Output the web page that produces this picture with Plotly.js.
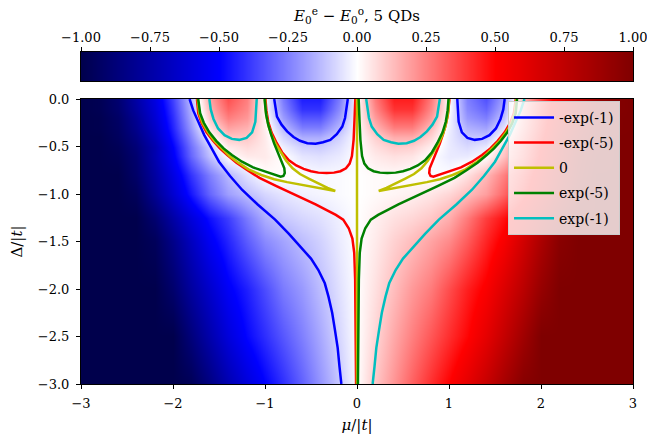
<!DOCTYPE html>
<html><head><meta charset="utf-8">
<script src="https://cdn.plot.ly/plotly-3.0.1.min.js"></script>
<style>html,body{margin:0;padding:0;background:#fff;} #chart{width:647px;height:440px;}</style>
</head><body><div id="chart"></div>
<script>
// ---- heatmap grid ----
const muGrid = [-3.0,-2.8,-2.6,-2.4,-2.2,-2.0,-1.8,-1.6,-1.4,-1.2,-1.0,-0.8,-0.6,-0.4,-0.2,0.0,0.2,0.4,0.6,0.8,1.0,1.2,1.4,1.6,1.8,2.0,2.2,2.4,2.6,2.8,3.0];
const deltaGrid = [-3.0,-2.5,-2.0,-1.5,-1.25,-1.0,-0.8,-0.6,-0.5,-0.4,-0.3,-0.2,-0.1,0.0];
const energyDiff = [
 [-1,-1,-1,-1,-1,-1,-0.97,-0.85,-0.72,-0.6,-0.5,-0.41,-0.31,-0.21,-0.11,0,0.11,0.21,0.31,0.41,0.5,0.6,0.72,0.85,0.97,1,1,1,1,1,1],
 [-1,-1,-1,-1,-1,-1,-0.87,-0.73,-0.6,-0.49,-0.41,-0.33,-0.25,-0.17,-0.08,0,0.08,0.17,0.25,0.33,0.41,0.49,0.6,0.73,0.87,1,1,1,1,1,1],
 [-1,-1,-1,-1,-1,-0.91,-0.77,-0.64,-0.52,-0.44,-0.35,-0.26,-0.2,-0.13,-0.06,0,0.06,0.13,0.2,0.26,0.35,0.44,0.52,0.64,0.77,0.91,1,1,1,1,1],
 [-1,-1,-1,-1,-0.96,-0.83,-0.68,-0.53,-0.43,-0.32,-0.23,-0.18,-0.13,-0.09,-0.04,0,0.04,0.09,0.13,0.18,0.23,0.32,0.43,0.53,0.68,0.83,0.96,1,1,1,1],
 [-1,-1,-1,-1,-0.9,-0.75,-0.6,-0.47,-0.38,-0.26,-0.16,-0.11,-0.08,-0.06,-0.03,0,0.03,0.06,0.08,0.11,0.16,0.26,0.38,0.47,0.6,0.75,0.9,1,1,1,1],
 [-1,-1,-1,-0.96,-0.8,-0.63,-0.46,-0.3,-0.19,-0.13,-0.08,-0.05,-0.03,-0.02,-0.01,0,0.01,0.02,0.03,0.05,0.08,0.13,0.19,0.3,0.46,0.63,0.8,0.96,1,1,1],
 [-1,-1,-1,-0.92,-0.76,-0.58,-0.4,-0.25,-0.14,-0.06,0,0.01,0,-0.01,-0.01,0,0.01,0.01,0,-0.01,0,0.06,0.14,0.25,0.4,0.58,0.76,0.92,1,1,1],
 [-1,-1,-0.98,-0.9,-0.72,-0.52,-0.3,-0.12,0,0.04,0.04,0,-0.05,-0.06,-0.04,0,0.04,0.06,0.05,0,-0.04,-0.04,0,0.12,0.3,0.52,0.72,0.9,0.98,1,1],
 [-1,-1,-0.97,-0.88,-0.72,-0.5,-0.28,-0.09,0.04,0.07,0.04,-0.03,-0.09,-0.1,-0.06,0,0.06,0.1,0.09,0.03,-0.04,-0.07,-0.04,0.09,0.28,0.5,0.72,0.88,0.97,1,1],
 [-1,-1,-0.95,-0.85,-0.68,-0.46,-0.24,-0.01,0.11,0.11,0.04,-0.08,-0.16,-0.16,-0.09,0,0.09,0.16,0.16,0.08,-0.04,-0.11,-0.11,0.01,0.24,0.46,0.68,0.85,0.95,1,1],
 [-1,-0.99,-0.94,-0.82,-0.65,-0.43,-0.2,0.05,0.18,0.15,0.03,-0.13,-0.25,-0.25,-0.14,0,0.14,0.25,0.25,0.13,-0.03,-0.15,-0.18,-0.05,0.2,0.43,0.65,0.82,0.94,0.99,1],
 [-1,-0.99,-0.93,-0.8,-0.62,-0.41,-0.17,0.11,0.25,0.2,0.02,-0.19,-0.33,-0.33,-0.19,0,0.19,0.33,0.33,0.19,-0.02,-0.2,-0.25,-0.11,0.17,0.41,0.62,0.8,0.93,0.99,1],
 [-1,-0.98,-0.91,-0.77,-0.6,-0.39,-0.15,0.15,0.3,0.23,0,-0.23,-0.4,-0.4,-0.23,0,0.23,0.4,0.4,0.23,0,-0.23,-0.3,-0.15,0.15,0.39,0.6,0.77,0.91,0.98,1],
 [-1,-0.98,-0.9,-0.75,-0.58,-0.37,-0.13,0.18,0.34,0.25,0,-0.26,-0.44,-0.44,-0.26,0,0.26,0.44,0.44,0.26,0,-0.25,-0.34,-0.18,0.13,0.37,0.58,0.75,0.9,0.98,1]
];
const cbarTicks = [-1.0,-0.75,-0.5,-0.25,0.0,0.25,0.5,0.75,1.0];
const xTicks = [-3,-2,-1,0,1,2,3];
const yTicks = [-3.0,-2.5,-2.0,-1.5,-1.0,-0.5,0.0];

// ---- contour lines ----
// level -exp(-1)
const blueOuterX = [-1.82,-1.78,-1.72,-1.66,-1.58,-1.50,-1.38,-1.25,-1.08,-0.89,-0.74,-0.62,-0.50,-0.42,-0.35,-0.31,-0.27,-0.24,-0.21,-0.19,-0.17];
const blueOuterY = [0,-0.12,-0.25,-0.38,-0.52,-0.66,-0.81,-0.955,-1.11,-1.27,-1.42,-1.55,-1.68,-1.80,-1.94,-2.08,-2.25,-2.43,-2.62,-2.82,-3.0];
const blueLobeX = [-0.90,-0.87,-0.82,-0.76,-0.69,-0.62,-0.54,-0.45,-0.37,-0.29,-0.22,-0.16,-0.13,-0.115,-0.10];
const blueLobeY = [0,-0.186,-0.27,-0.34,-0.40,-0.44,-0.465,-0.47,-0.455,-0.43,-0.37,-0.29,-0.2,-0.116,0];
const blueSmallX = [1.09,1.095,1.105,1.14,1.20,1.28,1.36,1.44,1.51,1.56,1.59,1.605];
const blueSmallY = [0,-0.12,-0.24,-0.35,-0.41,-0.43,-0.42,-0.38,-0.31,-0.21,-0.11,0];
// level -exp(-5)
const redOuterX = [-1.74,-1.725,-1.69,-1.635,-1.565,-1.49,-1.41,-1.31,-1.19,-1.06,-0.87,-0.62,-0.45,-0.33,-0.23,-0.15,-0.09,-0.05,-0.03,-0.02,-0.015,-0.01];
const redOuterY = [0,-0.15,-0.25,-0.35,-0.44,-0.52,-0.59,-0.67,-0.75,-0.83,-0.92,-1.03,-1.11,-1.17,-1.22,-1.27,-1.36,-1.47,-1.62,-1.9,-2.4,-3.0];
const redLobeX = [-0.995,-0.985,-0.965,-0.93,-0.875,-0.815,-0.74,-0.66,-0.58,-0.50,-0.42,-0.33,-0.25,-0.18,-0.12,-0.08,-0.055,-0.037,-0.027,-0.018];
const redLobeY = [0,-0.12,-0.24,-0.35,-0.46,-0.56,-0.645,-0.70,-0.735,-0.76,-0.775,-0.78,-0.775,-0.76,-0.73,-0.68,-0.60,-0.43,-0.22,0];
const redHookX = [1.726,1.705,1.665,1.605,1.53,1.45,1.36,1.25,1.13,1.05,0.96,0.88,0.83,0.80,0.785,0.79,0.82,0.86,0.90,0.935,0.965,0.988,0.999,1.005];
const redHookY = [0,-0.15,-0.25,-0.35,-0.44,-0.52,-0.59,-0.66,-0.72,-0.745,-0.78,-0.805,-0.818,-0.81,-0.78,-0.73,-0.66,-0.57,-0.47,-0.37,-0.27,-0.16,-0.07,0];
// level 0
const yellowMidX = [0,0];
const yellowMidY = [0,-3];
const yellowLeftX = [-1.732,-1.715,-1.68,-1.62,-1.55,-1.47,-1.386,-1.29,-1.18,-1.04,-0.90,-0.76,-0.60,-0.45,-0.33,-0.236,-0.32,-0.42,-0.52,-0.62,-0.70,-0.77,-0.83,-0.885,-0.925,-0.957,-0.98,-0.995,-1.0];
const yellowLeftY = [0,-0.15,-0.25,-0.35,-0.44,-0.52,-0.60,-0.67,-0.74,-0.80,-0.845,-0.875,-0.905,-0.935,-0.955,-0.968,-0.935,-0.89,-0.84,-0.79,-0.73,-0.65,-0.56,-0.47,-0.39,-0.30,-0.20,-0.10,0];
const yellowRightX = [1.732,1.715,1.68,1.62,1.55,1.47,1.386,1.29,1.18,1.04,0.90,0.76,0.60,0.45,0.33,0.236,0.32,0.42,0.52,0.62,0.70,0.77,0.83,0.885,0.925,0.957,0.98,0.995,1.0];
const yellowRightY = [0,-0.15,-0.25,-0.35,-0.44,-0.52,-0.60,-0.67,-0.74,-0.80,-0.845,-0.875,-0.905,-0.935,-0.955,-0.968,-0.935,-0.89,-0.84,-0.79,-0.73,-0.65,-0.56,-0.47,-0.39,-0.30,-0.20,-0.10,0];
// level exp(-5)
const greenOuterX = [1.74,1.725,1.69,1.635,1.565,1.49,1.41,1.31,1.19,1.06,0.87,0.62,0.45,0.33,0.23,0.15,0.09,0.05,0.03,0.02,0.015,0.01];
const greenOuterY = [0,-0.15,-0.25,-0.35,-0.44,-0.52,-0.59,-0.67,-0.75,-0.83,-0.92,-1.03,-1.11,-1.17,-1.22,-1.27,-1.36,-1.47,-1.62,-1.9,-2.4,-3.0];
const greenLobeX = [0.995,0.985,0.965,0.93,0.875,0.815,0.74,0.66,0.58,0.50,0.42,0.33,0.25,0.18,0.12,0.08,0.055,0.037,0.027,0.018];
const greenLobeY = [0,-0.12,-0.24,-0.35,-0.46,-0.56,-0.645,-0.70,-0.735,-0.76,-0.775,-0.78,-0.775,-0.76,-0.73,-0.68,-0.60,-0.43,-0.22,0];
const greenHookX = [-1.726,-1.705,-1.665,-1.605,-1.53,-1.45,-1.36,-1.25,-1.13,-1.05,-0.96,-0.88,-0.83,-0.80,-0.785,-0.79,-0.82,-0.86,-0.90,-0.935,-0.965,-0.988,-0.999,-1.005];
const greenHookY = [0,-0.15,-0.25,-0.35,-0.44,-0.52,-0.59,-0.66,-0.72,-0.745,-0.78,-0.805,-0.818,-0.81,-0.78,-0.73,-0.66,-0.57,-0.47,-0.37,-0.27,-0.16,-0.07,0];
// level exp(-1)
const cyanOuterX = [1.82,1.78,1.72,1.66,1.58,1.50,1.38,1.25,1.08,0.89,0.74,0.62,0.50,0.42,0.35,0.31,0.27,0.24,0.21,0.19,0.17];
const cyanOuterY = [0,-0.12,-0.25,-0.38,-0.52,-0.66,-0.81,-0.955,-1.11,-1.27,-1.42,-1.55,-1.68,-1.80,-1.94,-2.08,-2.25,-2.43,-2.62,-2.82,-3.0];
const cyanLobeX = [0.90,0.87,0.82,0.76,0.69,0.62,0.54,0.45,0.37,0.29,0.22,0.16,0.13,0.115,0.10];
const cyanLobeY = [0,-0.186,-0.27,-0.34,-0.40,-0.44,-0.465,-0.47,-0.455,-0.43,-0.37,-0.29,-0.2,-0.116,0];
const cyanSmallX = [-1.09,-1.095,-1.105,-1.14,-1.20,-1.28,-1.36,-1.44,-1.51,-1.56,-1.59,-1.605];
const cyanSmallY = [0,-0.12,-0.24,-0.35,-0.41,-0.43,-0.42,-0.38,-0.31,-0.21,-0.11,0];

const levelNames = ['-exp(-1)','-exp(-5)','0','exp(-5)','exp(-1)'];
const levelColors = ['#0000ff','#ff0000','#bfbf00','#008000','#00bfbf'];
const levelSegments = [
  [[blueOuterX,blueOuterY],[blueLobeX,blueLobeY],[blueSmallX,blueSmallY]],
  [[redOuterX,redOuterY],[redLobeX,redLobeY],[redHookX,redHookY]],
  [[yellowMidX,yellowMidY],[yellowLeftX,yellowLeftY],[yellowRightX,yellowRightY]],
  [[greenOuterX,greenOuterY],[greenLobeX,greenLobeY],[greenHookX,greenHookY]],
  [[cyanOuterX,cyanOuterY],[cyanLobeX,cyanLobeY],[cyanSmallX,cyanSmallY]]
];

const seismic = [[0,'rgb(0,0,76)'],[0.25,'rgb(0,0,255)'],[0.5,'rgb(255,255,255)'],[0.75,'rgb(255,0,0)'],[1,'rgb(127,0,0)']];

function joinSegs(segs){
  const xs=[], ys=[];
  segs.forEach((s,i)=>{ if(i){xs.push(null);ys.push(null);} xs.push(...s[0]); ys.push(...s[1]); });
  return [xs,ys];
}

const traces = [{
  type:'heatmap', x:muGrid, y:deltaGrid, z:energyDiff, colorscale:seismic, zmin:-1, zmax:1,
  zsmooth:'best', showscale:false, hoverinfo:'skip', xaxis:'x', yaxis:'y', showlegend:false
},{
  type:'heatmap', x:cbarTicks, y:[0,1], z:[cbarTicks,cbarTicks], colorscale:seismic, zmin:-1, zmax:1,
  zsmooth:'best', showscale:false, hoverinfo:'skip', xaxis:'x2', yaxis:'y2', showlegend:false
}];
levelSegments.forEach((segs,i)=>{
  const [xs,ys] = joinSegs(segs);
  traces.push({type:'scatter', mode:'lines', x:xs, y:ys, name:levelNames[i], legendgroup:'g'+i,
    line:{color:levelColors[i], width:2.5}, connectgaps:false, hoverinfo:'skip', xaxis:'x', yaxis:'y'});
});

const FONT = "'DejaVu Serif', serif";
const axCommon = {showline:true, mirror:true, linecolor:'black', linewidth:1, showgrid:false, zeroline:false,
  ticks:'outside', ticklen:4, tickwidth:1, tickcolor:'black', tickfont:{family:FONT, size:13, color:'black'},
  ticklabeloverflow:'allow'};
const layout = {
  width:647, height:440,
  margin:{l:81, r:14, t:52, b:56},
  paper_bgcolor:'white', plot_bgcolor:'white',
  font:{family:FONT, size:14, color:'black'},
  showlegend:true,
  legend:{x:0.7736, y:0.853, xanchor:'left', yanchor:'top', bgcolor:'rgba(255,255,255,0.8)',
    bordercolor:'#cccccc', borderwidth:1, font:{family:FONT, size:14}, tracegroupgap:4, itemwidth:40},
  xaxis:Object.assign({}, axCommon, {domain:[0,1], range:[-3,3], anchor:'y', tickvals:xTicks, ticklabelstandoff:3,
    title:{text:'<i>μ</i>/|<i>t</i>|', standoff:9, font:{family:FONT, size:15}}}),
  yaxis:Object.assign({}, axCommon, {domain:[0,0.8584], range:[-3,0], anchor:'x', tickvals:yTicks, tickformat:'.1f',
    ticklabelstandoff:4, title:{text:'Δ/|<i>t</i>|', standoff:11, font:{family:FONT, size:15}}}),
  xaxis2:Object.assign({}, axCommon, {domain:[0,1], range:[-1,1], anchor:'y2', side:'top', tickvals:cbarTicks, tickformat:'.2f',
    title:{text:'<i>E</i><sub>0</sub><sup>e</sup> − <i>E</i><sub>0</sub><sup>o</sup>, 5 QDs', standoff:4, font:{family:FONT, size:15}}}),
  yaxis2:Object.assign({}, axCommon, {domain:[0.9127,1], range:[0,1], anchor:'x2', ticks:'', showticklabels:false})
};
Plotly.newPlot('chart', traces, layout, {staticPlot:true, displayModeBar:false});
</script>
</body></html>
